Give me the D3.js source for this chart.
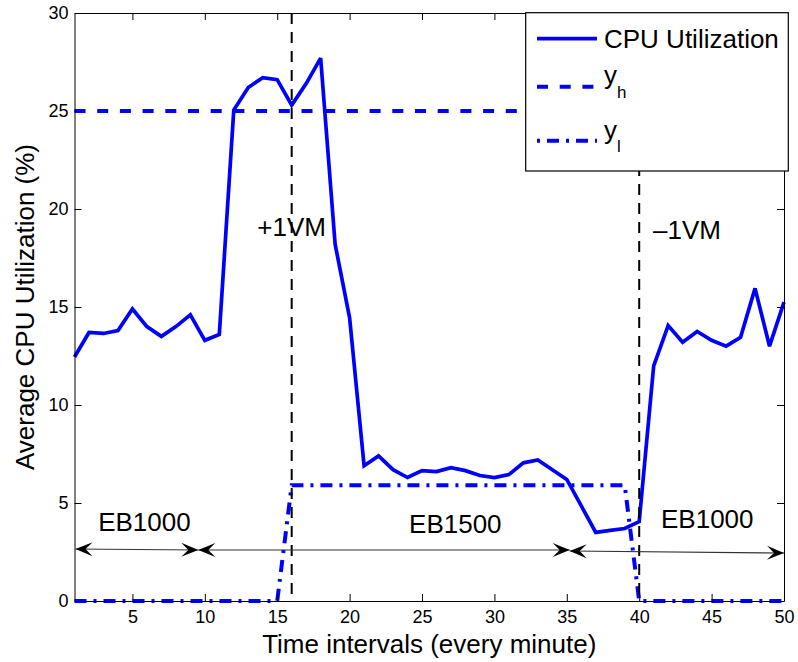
<!DOCTYPE html>
<html><head><meta charset="utf-8">
<script src="https://cdn.jsdelivr.net/npm/d3@7"></script>
<style>body{margin:0;background:#fff} svg{display:block}</style>
</head><body><svg id="c" width="798" height="662"></svg>
<script>
// ---------- data ----------
const time = [1,2,3,4,5,6,7,8,9,10,11,12,13,14,15,16,17,18,19,20,21,22,23,24,25,
              26,27,28,29,30,31,32,33,34,35,36,37,38,39,40,41,42,43,44,45,46,47,48,49,50];
const cpu = [12.45,13.7,13.65,13.8,14.9,14.0,13.5,14.0,14.6,13.3,
             13.6,25.05,26.2,26.7,26.6,25.3,26.4,27.7,18.2,14.45,
             6.9,7.4,6.7,6.3,6.65,6.6,6.8,6.65,6.4,6.3,
             6.45,7.05,7.2,6.7,6.2,4.85,3.5,3.6,3.7,4.05,
             12.0,14.05,13.2,13.75,13.3,13.0,13.45,15.95,13.0,15.25];
const yhTime = [1,50];
const yhVal  = [25,25];
const ylTime = [1,15,16,39,40,50];
const ylVal  = [0,0,5.9,5.9,0,0];
const vmTimes  = [16,40];
const vmLabels = ["+1VM","\u20131VM"];
const vmLabelPos = [[16,18.6],[43.3,18.47]];
const ebLabels = ["EB1000","EB1500","EB1000"];
const ebLabelPos = [[5.83,3.57],[27.3,3.47],[44.7,3.72]];
const ebArrows = [[1.07,2.653,9.55,2.602],[9.55,2.602,35.2,2.602],[35.2,2.55,50,2.449]];
const xTicks = [5,10,15,20,25,30,35,40,45,50];
const yTicks = [0,5,10,15,20,25,30];
const legendLabels = [["CPU Utilization",""],["y","h"],["y","l"]];

// ---------- layout ----------
const svg = d3.select("#c");
const L = 74.5, R = 784, T = 13, B = 601;
const x = d3.scaleLinear().domain([1,50]).range([L,R]);
const y = d3.scaleLinear().domain([0,30]).range([B,T]);
const FONT = "'Liberation Sans', Arial, Helvetica, sans-serif";
const BLUE = "#0000ff";

svg.append("rect").attr("width",798).attr("height",662).attr("fill","#fff");

// data lines
const line = d3.line().x(d=>x(d[0])).y(d=>y(d[1]));
svg.append("path").datum(yhTime.map((t,i)=>[t,yhVal[i]]))
  .attr("d",line).attr("fill","none").attr("stroke",BLUE).attr("stroke-width",4)
  .attr("stroke-dasharray","11,11.7");
svg.append("path").datum(ylTime.map((t,i)=>[t,ylVal[i]]))
  .attr("d",line).attr("fill","none").attr("stroke",BLUE).attr("stroke-width",4)
  .attr("stroke-dasharray","12,7,3,7");
svg.append("path").datum(time.map((t,i)=>[t,cpu[i]]))
  .attr("d",line).attr("fill","none").attr("stroke",BLUE).attr("stroke-width",3.7)
  .attr("stroke-linejoin","miter").attr("stroke-miterlimit",3);

// vertical VM lines
svg.selectAll(".vm").data(vmTimes).enter().append("line")
  .attr("x1",d=>x(d)).attr("x2",d=>x(d)).attr("y1",y(30)).attr("y2",y(0))
  .attr("stroke","#000").attr("stroke-width",2).attr("stroke-dasharray","11,8");

// axes
function styleAxis(g){
  g.selectAll("path.domain").attr("stroke","#000").attr("stroke-width",1);
  g.selectAll(".tick line").attr("stroke","#000").attr("stroke-width",1);
  g.selectAll(".tick text").attr("font-family",FONT).attr("font-size",18).attr("fill","#000");
}
svg.append("g").attr("transform",`translate(0,${B})`)
  .call(d3.axisBottom(x).tickValues(xTicks).tickSizeInner(-7).tickSizeOuter(0).tickPadding(9))
  .call(styleAxis);
svg.append("g").attr("transform",`translate(0,${T})`)
  .call(d3.axisTop(x).tickValues(xTicks).tickSizeInner(-7).tickSizeOuter(0).tickFormat(""))
  .call(styleAxis);
svg.append("g").attr("transform",`translate(${L},0)`)
  .call(d3.axisLeft(y).tickValues(yTicks).tickSizeInner(-7).tickSizeOuter(0).tickPadding(6))
  .call(styleAxis);
svg.append("g").attr("transform",`translate(${R},0)`)
  .call(d3.axisRight(y).tickValues(yTicks).tickSizeInner(-7).tickSizeOuter(0).tickFormat(""))
  .call(styleAxis);

// axis titles
svg.append("text").attr("x",(L+R)/2).attr("y",653).attr("text-anchor","middle")
  .attr("font-family",FONT).attr("font-size",26).text("Time intervals (every minute)");
svg.append("text").attr("transform",`translate(33.5,${(T+B)/2}) rotate(-90)`)
  .attr("text-anchor","middle").attr("font-family",FONT).attr("font-size",26)
  .text("Average CPU Utilization (%)");

// VM labels
svg.selectAll(".vml").data(vmLabels).enter().append("text")
  .attr("x",(d,i)=>x(vmLabelPos[i][0])).attr("y",(d,i)=>y(vmLabelPos[i][1]))
  .attr("text-anchor","middle").attr("font-family",FONT).attr("font-size",26).text(d=>d);

// EB labels
svg.selectAll(".ebl").data(ebLabels).enter().append("text")
  .attr("x",(d,i)=>x(ebLabelPos[i][0])).attr("y",(d,i)=>y(ebLabelPos[i][1]))
  .attr("text-anchor","middle").attr("font-family",FONT).attr("font-size",26).text(d=>d);

// double arrows
const headPath = "M0,0 L-17,-7 L-10,0 L-17,7 Z";
ebArrows.forEach(a=>{
  const x1=x(a[0]), y1=y(a[1]), x2=x(a[2]), y2=y(a[3]);
  const ang = Math.atan2(y2-y1,x2-x1)*180/Math.PI;
  svg.append("line").attr("x1",x1).attr("y1",y1).attr("x2",x2).attr("y2",y2)
    .attr("stroke","#333").attr("stroke-width",1.2);
  svg.append("path").attr("d",headPath).attr("fill","#000")
    .attr("transform",`translate(${x2},${y2}) rotate(${ang})`);
  svg.append("path").attr("d",headPath).attr("fill","#000")
    .attr("transform",`translate(${x1},${y1}) rotate(${ang+180})`);
});

// legend
const lg = svg.append("g");
lg.append("rect").attr("x",525.7).attr("y",12.7).attr("width",262.6).attr("height",158.3)
  .attr("fill","#fff").attr("stroke","#000").attr("stroke-width",1.2);
const rowY = [38.7,86.7,140.7];
const rowDash = [null,"11,11.7","3,7,12,7"];
const baseOff = [9.5,-3.2,-2.2];
const subOff = [0,14.5,13.5];
legendLabels.forEach((lab,i)=>{
  lg.append("line").attr("x1",537).attr("x2",597).attr("y1",rowY[i]).attr("y2",rowY[i])
    .attr("stroke",BLUE).attr("stroke-width",i===0?3.7:4)
    .attr("stroke-dasharray",rowDash[i]);
  const t = lg.append("text").attr("x",604).attr("y",rowY[i]+baseOff[i])
    .attr("font-family",FONT).attr("font-size",26);
  t.append("tspan").text(lab[0]);
  if(lab[1]) t.append("tspan").attr("dy",subOff[i]).attr("font-size",17).text(lab[1]);
});
</script>
</body></html>
